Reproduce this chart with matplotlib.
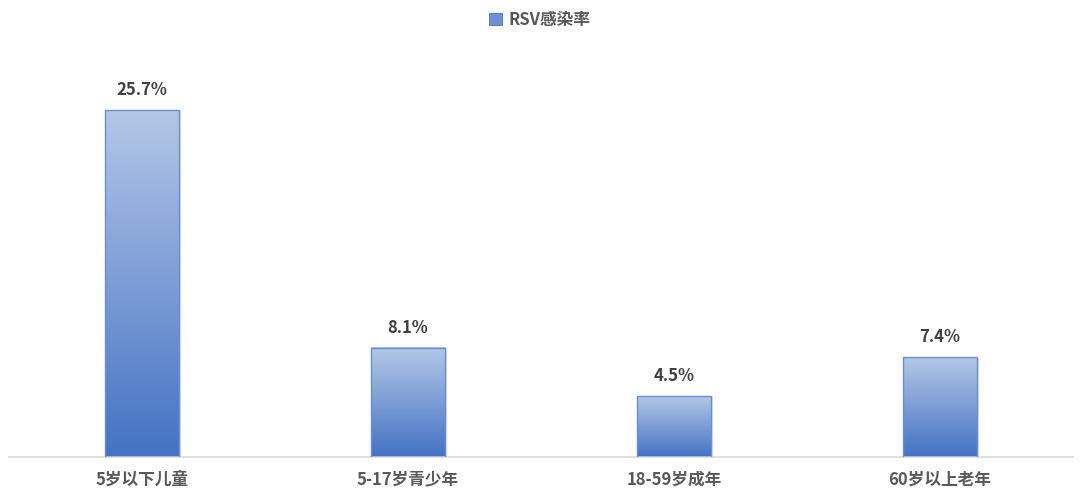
import matplotlib.pyplot as plt
import matplotlib.patches as mpatches
from matplotlib.colors import LinearSegmentedColormap
import numpy as np

plt.rcParams['font.family'] = ['Noto Sans CJK SC', 'DejaVu Sans']

categories = ['5岁以下儿童', '5-17岁青少年', '18-59岁成年', '60岁以上老年']
rates = [25.7, 8.1, 4.5, 7.4]
series_name = 'RSV感染率'

fig = plt.figure(figsize=(10.8, 4.94), dpi=100)
ax = fig.add_axes([9 / 1080, 37 / 494, 1064 / 1080, 405 / 494])

x = np.arange(len(categories))
width = 0.28
cmap = LinearSegmentedColormap.from_list('grad', ['#4472c4', '#b4c7e7'])
grad = np.linspace(0, 1, 256).reshape(-1, 1)

bars = ax.bar(x, rates, width=width, facecolor='none', edgecolor='#6a8ed6', linewidth=1.0, zorder=3)
for b in bars:
    x0, h, w = b.get_x(), b.get_height(), b.get_width()
    # soft shadow
    sh = mpatches.Rectangle((x0 + 0.006, 0), w, h - 0.05, facecolor='#d0d4dc', edgecolor='none', alpha=0.6, zorder=1)
    ax.add_patch(sh)
    ax.imshow(grad, extent=[x0, x0 + w, 0, h], origin='lower', cmap=cmap, aspect='auto', zorder=2)
    ax.text(b.get_x() + w / 2, h + 0.8, f'{h:.1f}%', ha='center', va='bottom',
            fontsize=12, fontweight='bold', color='#404040')

ax.set_xlim(-0.5, len(categories) - 0.5)
ax.set_ylim(0, 30)
ax.set_xticks(x)
ax.set_xticklabels(categories, fontsize=12, fontweight='bold', color='#595959')
ax.tick_params(axis='x', length=0, pad=10)
ax.set_yticks([])
for s in ['top', 'right', 'left']:
    ax.spines[s].set_visible(False)
ax.spines['bottom'].set_color('#d9d9d9')
ax.spines['bottom'].set_linewidth(1.2)

handle = mpatches.Patch(facecolor='#6f8fd6', edgecolor='#4472c4', linewidth=0.6, label=series_name)
fig.legend(handles=[handle], loc='center', bbox_to_anchor=(0.5, 1 - 20 / 494), frameon=False,
           prop={'size': 12, 'weight': 'bold'}, labelcolor='#595959',
           handlelength=0.75, handleheight=0.75, handletextpad=0.4)

fig.savefig('out.png', dpi=100)
